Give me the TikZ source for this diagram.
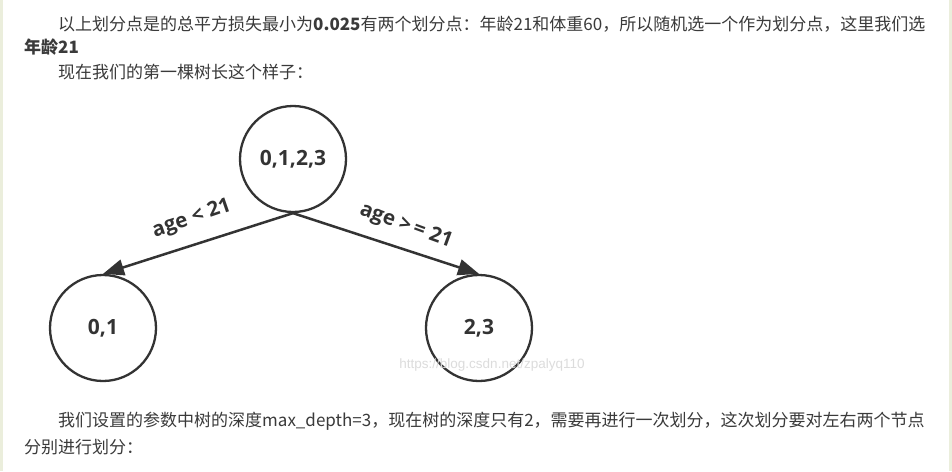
\documentclass[tikz,border=0pt]{standalone}
\usepackage{fontspec}
\setmainfont{Open Sans}
\newfontfamily\cjk{Noto Sans CJK SC}
\newfontfamily\wmfont{Liberation Sans}
\usetikzlibrary{arrows.meta}
\definecolor{ink}{HTML}{333333}
\definecolor{txt}{HTML}{3A3A3A}
\definecolor{side}{HTML}{EBEEDC}
\definecolor{wm}{HTML}{DCDCDC}
\tikzset{
  treenode/.style={circle, draw=ink, line width=2.3pt, fill=white, minimum size=106pt, inner sep=0pt,
    font=\fontsize{21}{24}\selectfont\bfseries, text=ink},
  branch/.style={draw=ink, line width=2.5pt, -{Triangle[length=21pt,width=16pt]}},
  edgelabel/.style={font=\fontsize{20.5}{24}\selectfont\bfseries, text=ink, inner sep=0pt},
  para/.style={anchor=base west, inner sep=0pt, text=txt, font=\cjk\fontsize{17}{20}\selectfont},
  wmtext/.style={text=wm, inner sep=0pt, font=\wmfont\fontsize{13.5}{16}\selectfont}
}
\begin{document}
\begin{tikzpicture}[x=1pt,y=-1pt]
\useasboundingbox (0,0) rectangle (952,471);
\fill[white] (0,0) rectangle (952,471);
\fill[side] (0,0) rectangle (3,471);
\fill[side] (949,0) rectangle (952,471);

\node[para] (p1) at (58,30) {以上划分点是的总平方损失最小为\textbf{0.025}有两个划分点：年龄21和体重60，所以随机选一个作为划分点，这里我们选};
\node[para] (p2) at (24,53.5) {\textbf{年龄21}};
\node[para] (p3) at (58,78.5) {现在我们的第一棵树长这个样子：};

\node[treenode] (root) at (293,159) {0,1,2,3};
\node[treenode] (left) at (103,328) {0,1};
\node[treenode] (right) at (479,328) {2,3};

\draw[branch] (root.south) -- (left.north);
\draw[branch] (root.south) -- (right.north);

\node[edgelabel, rotate=19] (lbl) at (192,219) {age < 21};
\node[edgelabel, rotate=-20] (lbr) at (406,226) {age >\,= 21};

\node[wmtext] (wmk) at (492,365) {https://blog.csdn.net/zpalyq110};

\node[para] (p4) at (58,426.5) {我们设置的参数中树的深度max\_depth=3，现在树的深度只有2，需要再进行一次划分，这次划分要对左右两个节点};
\node[para] (p5) at (24,453.5) {分别进行划分：};
\end{tikzpicture}
\end{document}
